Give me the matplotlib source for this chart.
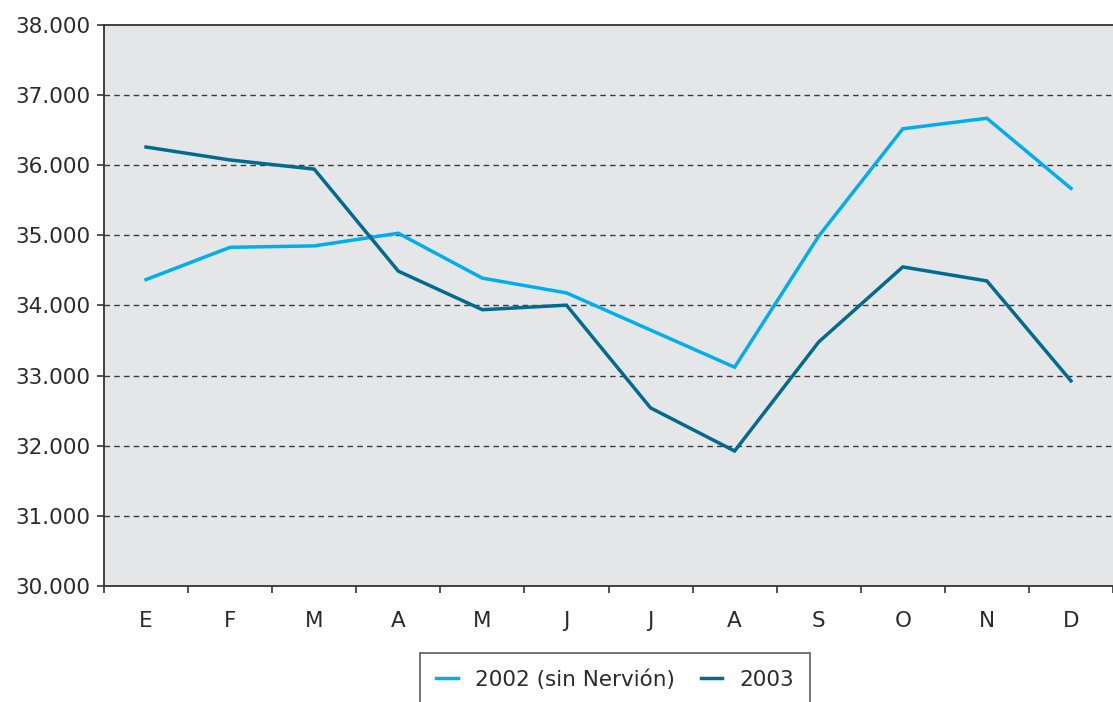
import numpy as np
import matplotlib
matplotlib.use('Agg')
import matplotlib.pyplot as plt
from matplotlib.ticker import FuncFormatter

# Monthly values
months = ['E', 'F', 'M', 'A', 'M', 'J', 'J', 'A', 'S', 'O', 'N', 'D']
serie_2002 = [34370, 34830, 34850, 35030, 34390, 34180, 33650, 33120, 34990, 36520, 36670, 35670]
serie_2003 = [36260, 36075, 35945, 34490, 33940, 34005, 32540, 31925, 33480, 34550, 34350, 32925]
labels = ['2002 (sin Nervión)', '2003']
y_ticks = [30000, 31000, 32000, 33000, 34000, 35000, 36000, 37000, 38000]

plt.rcParams['font.family'] = ['DejaVu Sans']

fig = plt.figure(figsize=(11.13, 7.02), dpi=100)
ax = fig.add_axes([104 / 1113, (702 - 586) / 702, 1009 / 1113, 561 / 702])
ax.set_facecolor('#e5e6e8')

x = np.arange(len(months)) + 0.5
ax.plot(x, serie_2002, color='#00aeef', lw=2.5, label=labels[0], solid_joinstyle='miter', zorder=3)
ax.plot(x, serie_2003, color='#006b8f', lw=2.5, label=labels[1], solid_joinstyle='miter', zorder=3)

ax.set_xlim(0, len(months))
ax.set_ylim(30000, 38000)
ax.set_yticks(y_ticks)
ax.yaxis.set_major_formatter(FuncFormatter(lambda v, p: f'{int(v):,}'.replace(',', '.')))

# category ticks sit between the months, labels centred under them
ax.set_xticks(np.arange(len(months) + 1))
ax.set_xticklabels([])
ax.set_xticks(x, minor=True)
ax.set_xticklabels(months, minor=True)
ax.tick_params(axis='x', which='minor', length=0, pad=18, labelsize=15.5, labelcolor='#2b2b2b')
ax.tick_params(axis='x', which='major', length=5, width=1.2, color='#333333')
ax.tick_params(axis='y', length=5, width=1.2, color='#333333', labelsize=15.5, labelcolor='#2b2b2b', pad=5)

for yv in y_ticks[1:-1]:
    ax.axhline(yv, color='#3a3a3a', lw=1.0, ls=(0, (4, 3)), zorder=1)

for s in ['left', 'bottom', 'top']:
    ax.spines[s].set_color('#333333')
    ax.spines[s].set_linewidth(1.3)
ax.spines['right'].set_visible(False)

# legend box runs off the bottom edge like in the original
leg = fig.legend(loc='upper left', bbox_to_anchor=(420 / 1113, 1 - 653 / 702), ncol=2,
                 frameon=True, fancybox=False, edgecolor='#333333', fontsize=15.5,
                 handlelength=1.0, handletextpad=0.8, columnspacing=1.2,
                 borderpad=0.75, borderaxespad=0, labelcolor='#2b2b2b')
leg.get_frame().set_linewidth(1.2)

fig.savefig('out.png', dpi=100)
